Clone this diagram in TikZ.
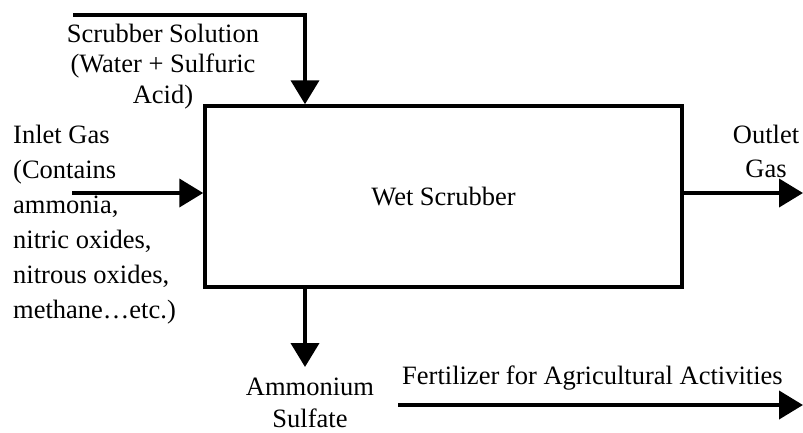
\documentclass[tikz,border=0pt]{standalone}
\usepackage{fontspec}
\setmainfont{Liberation Serif}
\usetikzlibrary{arrows.meta,positioning}

\begin{document}
\begin{tikzpicture}[
  x=1pt,y=-1pt,
  unit/.style={rectangle,draw=black,line width=3.5pt,minimum width=477pt,
    minimum height=181pt,font=\fontsize{26.5}{32}\selectfont,inner sep=0pt},
  lbl/.style={inner sep=0pt,font=\fontsize{26.5}{#1}\selectfont},
  lbl/.default=33,
  flow/.style={-{Triangle[length=24pt,width=28pt]},line width=4pt,black},
]
  \useasboundingbox (0,0) rectangle (803,432);
  \node[unit] (scrubber) at (443.5,196.5) {Wet Scrubber};
  \coordinate (solStart) at (73,15);
  \coordinate (solTurn) at (305,15);
  \coordinate (inStart) at (72,193);
  \coordinate (outEnd) at (803,193);
  \coordinate (sulfEnd) at (305,367);
  \coordinate (fertStart) at (398,405);
  \coordinate (fertEnd) at (803,405);
  % multi-line labels sit on the baseline of their last line
  \node[lbl=30.5,anchor=base,align=center] (solution) at (163,103)
    {Scrubber Solution\\(Water + Sulfuric\\Acid)};
  \node[lbl=35,anchor=base west,align=left] (inlet) at (13,318)
    {Inlet Gas\\(Contains\\ammonia,\\nitric oxides,\\nitrous oxides,\\methane\ldots etc.)};
  \node[lbl=34,anchor=base,align=center] (outlet) at (766,177) {Outlet\\Gas};
  \node[lbl=32,anchor=base,align=center] (sulfate) at (310,427) {Ammonium\\Sulfate};
  \node[lbl,anchor=base west] (fert) at (402,384) {Fertilizer for Agricultural Activities};
  \draw[flow] (solStart) -- (solTurn) -- (solTurn |- scrubber.north);
  \draw[flow] (inStart) -- (inStart -| scrubber.west);
  \draw[flow] (outEnd -| scrubber.east) -- (outEnd);
  \draw[flow] (sulfEnd |- scrubber.south) -- (sulfEnd);
  \draw[flow] (fertStart) -- (fertEnd);
\end{tikzpicture}
\end{document}
